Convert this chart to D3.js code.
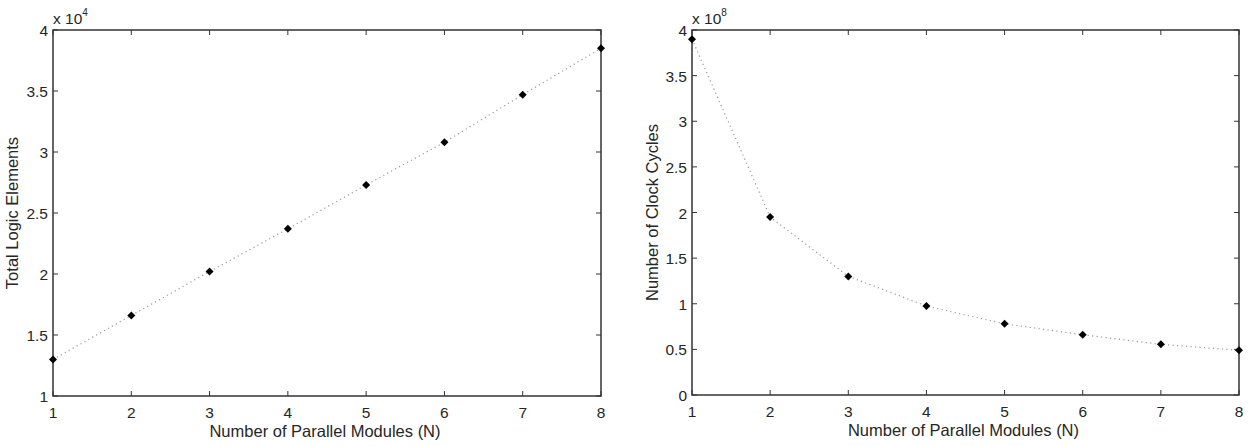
<!DOCTYPE html>
<html>
<head>
<meta charset="utf-8">
<script src="https://cdn.jsdelivr.net/npm/d3@7"></script>
<style>
  body { margin: 0; background: #fff; }
  svg text { font-family: "Liberation Sans", Arial, sans-serif; fill: #262626; }
</style>
</head>
<body>
<div id="chart"></div>
<script>
// data
var modules = [1, 2, 3, 4, 5, 6, 7, 8];
var logicElements = [1.30, 1.66, 2.02, 2.37, 2.73, 3.08, 3.47, 3.85];   // x 10^4
var clockCycles = [3.90, 1.95, 1.30, 0.975, 0.78, 0.66, 0.555, 0.49];  // x 10^8
var leftTicks = [1, 1.5, 2, 2.5, 3, 3.5, 4];
var rightTicks = [0, 0.5, 1, 1.5, 2, 2.5, 3, 3.5, 4];

var width = 1251, height = 446;
var fs = 15.5;

var svg = d3.select("#chart")
    .append("svg")
    .attr("width", width)
    .attr("height", height);

var drawPanel = function (opts) {
    var x = d3.scaleLinear().domain([1, 8]).range([opts.x0, opts.x1]);
    var y = d3.scaleLinear().domain(opts.ydom).range([opts.y1, opts.y0]);
    var g = svg.append("g");
    var tickLen = 5;

    // ticks pointing inward, all four sides
    modules.forEach(function (m) {
        g.append("line").attr("x1", x(m)).attr("x2", x(m))
            .attr("y1", opts.y1).attr("y2", opts.y1 - tickLen)
            .attr("stroke", "#333").attr("stroke-width", 1);
        g.append("line").attr("x1", x(m)).attr("x2", x(m))
            .attr("y1", opts.y0).attr("y2", opts.y0 + tickLen)
            .attr("stroke", "#333").attr("stroke-width", 1);
        g.append("text").attr("x", x(m)).attr("y", opts.y1 + 22)
            .attr("text-anchor", "middle").attr("font-size", fs).text(m);
    });
    opts.ticks.forEach(function (t) {
        g.append("line").attr("x1", opts.x0).attr("x2", opts.x0 + tickLen)
            .attr("y1", y(t)).attr("y2", y(t))
            .attr("stroke", "#333").attr("stroke-width", 1);
        g.append("line").attr("x1", opts.x1).attr("x2", opts.x1 - tickLen)
            .attr("y1", y(t)).attr("y2", y(t))
            .attr("stroke", "#333").attr("stroke-width", 1);
        g.append("text").attr("x", opts.x0 - 5).attr("y", y(t) + 6)
            .attr("text-anchor", "end").attr("font-size", fs).text(t);
    });

    // box
    g.append("rect")
        .attr("x", opts.x0).attr("y", opts.y0)
        .attr("width", opts.x1 - opts.x0).attr("height", opts.y1 - opts.y0)
        .attr("fill", "none").attr("stroke", "#333").attr("stroke-width", 1.5);

    // dotted line
    var line = d3.line()
        .x(function (d, i) { return x(modules[i]); })
        .y(function (d) { return y(d); });
    g.append("path").datum(opts.values)
        .attr("d", line)
        .attr("fill", "none")
        .attr("stroke", "#999")
        .attr("stroke-width", 1.2)
        .attr("stroke-dasharray", "1.2,3.3");

    // diamond markers
    g.selectAll(".pt").data(opts.values).enter()
        .append("path")
        .attr("class", "pt")
        .attr("d", "M0,-4L4,0L0,4L-4,0Z")
        .attr("transform", function (d, i) { return "translate(" + x(modules[i]) + "," + y(d) + ")"; })
        .attr("fill", "#000");

    // exponent label
    var ex = g.append("text").attr("x", opts.x0).attr("y", opts.y0 - 6).attr("font-size", fs);
    ex.append("tspan").text("x 10");
    ex.append("tspan").attr("font-size", 10).attr("dy", -8).text(opts.exp);

    // axis labels
    g.append("text")
        .attr("x", (opts.x0 + opts.x1) / 2 - 2).attr("y", opts.y1 + 41)
        .attr("text-anchor", "middle").attr("font-size", 16.5)
        .text("Number of Parallel Modules (N)");
    g.append("text")
        .attr("transform", "translate(" + opts.ylabX + "," + (opts.y0 + opts.y1) / 2 + ") rotate(-90)")
        .attr("text-anchor", "middle").attr("font-size", 16.5)
        .text(opts.ylabel);
};

drawPanel({
    x0: 53, x1: 601, y0: 30, y1: 396,
    ydom: [1, 4], ticks: leftTicks, values: logicElements,
    exp: "4", ylabel: "Total Logic Elements", ylabX: 18
});

drawPanel({
    x0: 692, x1: 1239, y0: 30, y1: 395,
    ydom: [0, 4], ticks: rightTicks, values: clockCycles,
    exp: "8", ylabel: "Number of Clock Cycles", ylabX: 658
});
</script>
</body>
</html>
